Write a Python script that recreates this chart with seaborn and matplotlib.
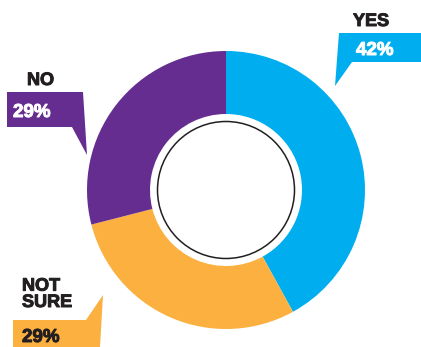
import matplotlib
matplotlib.use("Agg")
import matplotlib.pyplot as plt
from matplotlib.patches import Polygon, Circle
import matplotlib.patheffects as pe
import seaborn as sns

# Survey answers, clockwise from 12 o'clock
categories = ["YES", "NOT\nSURE", "NO"]
shares = [42, 29, 29]
pct_labels = ["42%", "29%", "29%"]

palette = sns.color_palette(["#00AEEF", "#FBB040", "#662D91"])

sns.set_theme(style="white")
plt.rcParams["font.family"] = ["Liberation Sans", "DejaVu Sans"]

W, H = 421, 347
fig = plt.figure(figsize=(W / 100, H / 100), dpi=100)
ax = fig.add_axes([0, 0, 1, 1])


def Y(y):
    # layout coordinates are measured from the top edge
    return H - y


cx, cy, r_out, r_in = 226, 190, 139, 76
ax.pie(shares, colors=palette, startangle=90, counterclock=False,
       radius=r_out, center=(cx, Y(cy)),
       wedgeprops=dict(width=r_out - r_in, linewidth=0))
ax.add_patch(Circle((cx, Y(cy)), 68.5, facecolor="white",
                    edgecolor="#231F20", linewidth=1.1, zorder=5))

ax.set_xlim(0, W)
ax.set_ylim(0, H)
ax.set_aspect("equal")
ax.axis("off")

dark = "#231F20"

# callout shapes for each answer
callouts = {
    "YES": [(339, 33), (W, 33), (W, 62), (352, 62), (335, 86)],
    "NOT\nSURE": [(13, 320), (86, 320), (103, 295), (100, H), (13, H)],
    "NO": [(7, 92), (83, 92), (87, 155), (72, 127), (7, 127)],
}
label_pos = {"YES": (353, 26), "NOT\nSURE": (22, 307), "NO": (27, 85)}
pct_pos = {"YES": (356, 55), "NOT\nSURE": (22, 342), "NO": (13, 117)}
pct_color = {"YES": "white", "NOT\nSURE": dark, "NO": "white"}


def heavy(color):
    return [pe.withStroke(linewidth=0.7, foreground=color)]


for cat, pct, col in zip(categories, pct_labels, palette):
    pts = [(x, Y(y)) for x, y in callouts[cat]]
    ax.add_patch(Polygon(pts, closed=True, facecolor=col, edgecolor="none", zorder=3))
    lx, ly = label_pos[cat]
    ax.text(lx, Y(ly), cat, ha="left", va="baseline", fontsize=13,
            fontweight="bold", color=dark, linespacing=0.95, zorder=6,
            path_effects=heavy(dark))
    px, py = pct_pos[cat]
    ax.text(px, Y(py), pct, ha="left", va="baseline", fontsize=13.5,
            fontweight="bold", color=pct_color[cat], zorder=6,
            path_effects=heavy(pct_color[cat]))

fig.savefig("out.png", dpi=100)
